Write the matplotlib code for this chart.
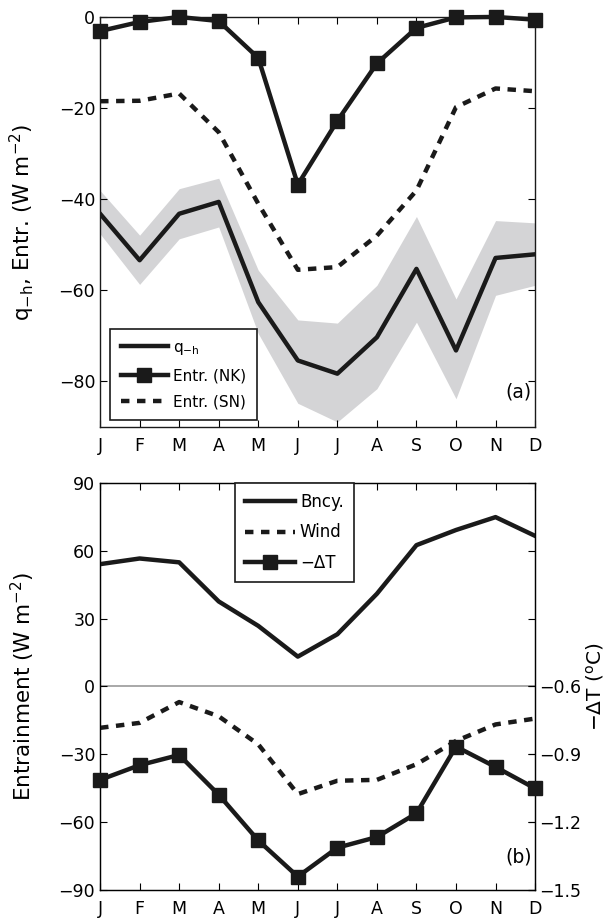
import numpy as np
import matplotlib.pyplot as plt

plt.rcParams['font.family'] = ['DejaVu Sans']
plt.rcParams['mathtext.default'] = 'regular'

months = ['J', 'F', 'M', 'A', 'M', 'J', 'J', 'A', 'S', 'O', 'N', 'D']

# (a) heat flux below mixed layer and entrainment estimates, W m-2
q_h = [-43.2, -53.4, -43.2, -40.6, -62.6, -75.4, -78.3, -70.3, -55.3, -73.2, -52.9, -52.1]
q_h_hi = [-38.1, -47.9, -37.7, -35.4, -55.6, -66.5, -67.2, -58.9, -43.8, -61.9, -44.7, -45.2]
q_h_lo = [-47.6, -58.7, -48.7, -46.1, -69.5, -84.8, -88.9, -81.6, -67.0, -83.8, -61.1, -58.9]
entr_nk = [-3.1, -1.1, 0.0, -0.9, -9.0, -36.8, -22.8, -10.2, -2.4, -0.1, 0.0, -0.6]
entr_sn = [-18.5, -18.4, -16.8, -25.3, -41.0, -55.5, -54.9, -48.0, -38.1, -19.8, -15.7, -16.3]

# (b) entrainment terms, W m-2, and temperature jump, deg C
bncy = [54.1, 56.6, 54.9, 37.6, 26.8, 13.2, 23.1, 41.0, 62.5, 69.2, 74.9, 66.6]
wind = [-18.3, -16.1, -6.9, -13.2, -25.6, -47.6, -41.7, -41.3, -34.4, -24.1, -16.8, -14.2]
neg_dT = [-1.013, -0.948, -0.903, -1.079, -1.281, -1.441, -1.313, -1.266, -1.161, -0.866, -0.956, -1.051]

x = np.arange(12)
k = '#1a1a1a'
fs = 12.5      # tick labels
fl = 15.5      # axis labels
dash = (0, (1.9, 1.7))

fig = plt.figure(figsize=(6.14, 9.21), dpi=100)
ax1 = fig.add_axes([0.163, 0.5364, 0.7085, 0.4452])
ax2 = fig.add_axes([0.163, 0.0337, 0.7085, 0.4419])

# ---- panel (a)
ax1.fill_between(x, q_h_lo, q_h_hi, color='#d4d4d6', lw=0)
ax1.plot(x, q_h, color=k, lw=3.2, label='q$_{-h}$')
ax1.plot(x, entr_nk, color=k, lw=3.2, marker='s', ms=9.5, clip_on=False, label='Entr. (NK)', zorder=5)
ax1.plot(x, entr_sn, color=k, lw=3.2, ls=dash, label='Entr. (SN)')
ax1.set_ylim(-90, 0)
ax1.set_yticks([-80, -60, -40, -20, 0])
ax1.set_ylabel('q$_{-h}$, Entr. (W m$^{-2}$)', fontsize=fl)
ax1.yaxis.set_label_coords(-0.145, 0.5)
ax1.text(10.25, -83.5, '(a)', fontsize=13.5)
leg1 = ax1.legend(loc='upper left', bbox_to_anchor=(0.023, 0.239), borderaxespad=0, fontsize=11,
                  handlelength=3.1, handletextpad=0.3, labelspacing=0.75, fancybox=False,
                  framealpha=1, borderpad=0.7)
leg1.get_frame().set_edgecolor(k)
leg1.get_frame().set_linewidth(1.2)

# ---- panel (b)
ax2.axhline(0, color='#999999', lw=1.2, zorder=0)
ax2.plot(x, bncy, color=k, lw=3.2, label='Bncy.')
ax2.plot(x, wind, color=k, lw=3.2, ls=dash, label='Wind')
ax2.set_ylim(-90, 90)
ax2.set_yticks([-90, -60, -30, 0, 30, 60, 90])
ax2.set_ylabel('Entrainment (W m$^{-2}$)', fontsize=fl)
ax2.yaxis.set_label_coords(-0.145, 0.5)
ax2.text(10.25, -78, '(b)', fontsize=13.5)

ax3 = ax2.twinx()
ax3.plot(x, neg_dT, color=k, lw=3.2, marker='s', ms=9.5, clip_on=False, label='\u2212\u0394T', zorder=5)
ax3.set_ylim(-1.5, 0.3)
ax3.set_yticks([-1.5, -1.2, -0.9, -0.6])
ax3.set_yticklabels(['\u22121.5', '\u22121.2', '\u22120.9', '\u22120.6'])
ax3.set_ylabel('\u2212\u0394T ($^{o}$C)', fontsize=14.5)
ax3.yaxis.set_label_coords(1.112, 0.5)
ax3.tick_params(axis='y', direction='in', labelsize=fs, length=5, pad=3)

h1, l1 = ax2.get_legend_handles_labels()
h3, l3 = ax3.get_legend_handles_labels()
leg2 = ax3.legend(h1 + h3, l1 + l3, loc='upper left', bbox_to_anchor=(0.31, 1.0), borderaxespad=0,
                  fontsize=12, handlelength=3.0, handletextpad=0.3, labelspacing=0.75,
                  fancybox=False, framealpha=1, borderpad=0.6)
leg2.get_frame().set_edgecolor(k)
leg2.get_frame().set_linewidth(1.2)

for ax in (ax1, ax2):
    ax.set_xlim(0, 11)
    ax.set_xticks(x)
    ax.set_xticklabels(months)
    ax.tick_params(direction='in', labelsize=fs, length=5, top=True, right=True, width=0.8)
    ax.tick_params(axis='x', pad=7)
    for s in ax.spines.values():
        s.set_linewidth(1.0)
        s.set_color(k)

fig.savefig('out.png', dpi=100)
